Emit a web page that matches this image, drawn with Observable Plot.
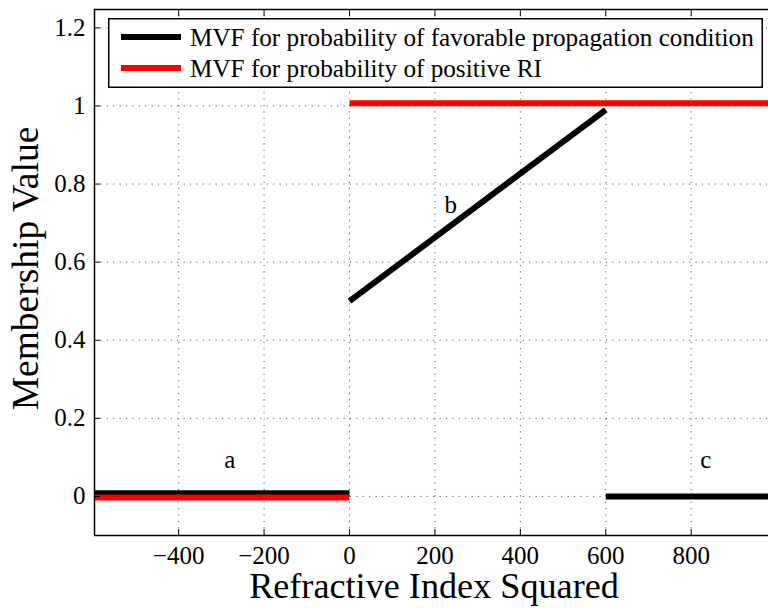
<!DOCTYPE html>
<html>
<head>
<meta charset="utf-8">
<script src="https://cdn.jsdelivr.net/npm/d3@7"></script>
<script src="https://cdn.jsdelivr.net/npm/@observablehq/plot@0.6"></script>
<style>
  body { margin: 0; background: #fff; }
  #wrap { position: relative; width: 768px; height: 608px; font-family: "Liberation Serif", serif; }
  #wrap svg text { font-family: "Liberation Serif", serif !important; }
  #legend { position: absolute; left: 108px; top: 18px; }
</style>
</head>
<body>
<div id="wrap"></div>
<script>
// ---- data ----
const xDomain = [-597, 981];
const yDomain = [-0.1, 1.247];
const xTicks = [-400, -200, 0, 200, 400, 600, 800];
const yTicks = [0, 0.2, 0.4, 0.6, 0.8, 1, 1.2];

// MVF for probability of favorable propagation condition (black)
const blackA_x = [-600, 0],   blackA_y = [0.008, 0.008];
const blackB_x = [0, 600],    blackB_y = [0.5, 0.99];
const blackC_x = [600, 1000], blackC_y = [0, 0];
// MVF for probability of positive RI (red)
const redA_x = [-600, 0],     redA_y = [-0.003, -0.003];
const redB_x = [0, 1000],     redB_y = [1.007, 1.007];

const annoText = ["a", "b", "c"];
const annoX = [-280, 237, 834];
const annoY = [0.093, 0.747, 0.093];

const legendLabels = ["MVF for probability of favorable propagation condition", "MVF for probability of positive RI"];
const legendColors = ["#000000", "#ff0000"];

const xLabel = "Refractive Index Squared";
const yLabel = "Membership Value";

const seg = (xs, ys) => xs.map((x, i) => ({x, y: ys[i]}));
const fmtX = d => d < 0 ? "\u2212" + Math.abs(d) : String(d);
const fmtY = d => String(+d.toFixed(1));
const anno = annoText.map((t, i) => ({t, x: annoX[i], y: annoY[i]}));

const font = "Liberation Serif, serif";
const lineOpts = {x: "x", y: "y", strokeWidth: 6, strokeLinecap: "butt", clip: true};

const chart = Plot.plot({
  width: 768,
  height: 608,
  marginLeft: 94,
  marginRight: 0,
  marginTop: 9,
  marginBottom: 73,
  style: {fontFamily: font, fontSize: "25px", background: "#fff", overflow: "visible", color: "#000"},
  x: {domain: xDomain},
  y: {domain: yDomain},
  marks: [
    Plot.gridX(xTicks, {stroke: "#000", strokeOpacity: 0.75, strokeDasharray: "1,5.4"}),
    Plot.gridY(yTicks, {stroke: "#000", strokeOpacity: 0.75, strokeDasharray: "1,5.4"}),
    Plot.line(seg(blackA_x, blackA_y), {...lineOpts, stroke: legendColors[0]}),
    Plot.line(seg(blackB_x, blackB_y), {...lineOpts, stroke: legendColors[0]}),
    Plot.line(seg(blackC_x, blackC_y), {...lineOpts, stroke: legendColors[0]}),
    Plot.line(seg(redA_x, redA_y), {...lineOpts, stroke: legendColors[1]}),
    Plot.line(seg(redB_x, redB_y), {...lineOpts, stroke: legendColors[1]}),
    Plot.text(anno, {x: "x", y: "y", text: "t", fontSize: 25, fill: "#000", lineAnchor: "middle"}),
    Plot.axisX({ticks: xTicks, tickSize: -6, tickPadding: 17, tickFormat: fmtX, fontSize: 25, label: null, stroke: "#000", fill: "#000"}),
    Plot.axisX({anchor: "top", ticks: xTicks, tickSize: -6, tickPadding: 0, tickFormat: () => "", label: null, stroke: "#000"}),
    Plot.axisY({ticks: yTicks, tickSize: -6, tickPadding: 15, tickFormat: fmtY, fontSize: 25, label: null, stroke: "#000", fill: "#000"}),
    Plot.ruleX([xDomain[0]], {stroke: "#000", strokeWidth: 1.5}),
    Plot.ruleY([yDomain[0], yDomain[1]], {stroke: "#000", strokeWidth: 1.5}),
    Plot.text([xLabel], {frameAnchor: "bottom", lineAnchor: "middle", textAnchor: "middle", dx: 2.5, dy: 50.5, fontSize: 36.2, fill: "#000"}),
    Plot.text([yLabel], {frameAnchor: "left", lineAnchor: "middle", textAnchor: "middle", rotate: -90, dx: -68.5, dy: -4, fontSize: 37.5, fill: "#000"})
  ]
});
document.getElementById("wrap").appendChild(chart);

// legend box
const lw = 655, lh = 70;
const leg = d3.select("#wrap").append("svg").attr("id", "legend")
  .attr("width", lw).attr("height", lh);
leg.append("rect").attr("x", 0.75).attr("y", 0.75).attr("width", lw - 1.5).attr("height", lh - 1.5)
  .attr("fill", "#fff").attr("stroke", "#000").attr("stroke-width", 1.5);
legendLabels.forEach((lab, i) => {
  const cy = 19 + i * 31;
  leg.append("line").attr("x1", 13).attr("x2", 73).attr("y1", cy).attr("y2", cy)
    .attr("stroke", legendColors[i]).attr("stroke-width", 6);
  leg.append("text").attr("x", 82).attr("y", cy + 9).attr("font-size", 25.2)
    .attr("fill", "#000").text(lab);
});
</script>
</body>
</html>
